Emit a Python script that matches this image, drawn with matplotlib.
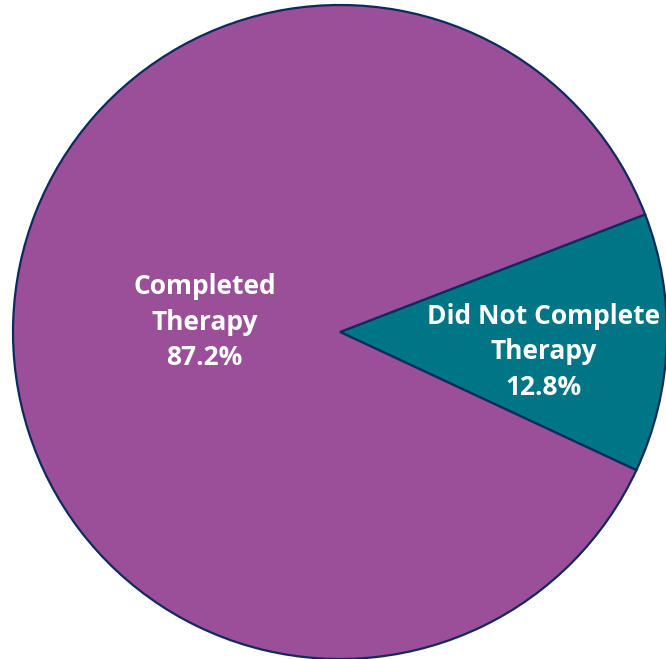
import numpy as np
import matplotlib.pyplot as plt

labels = ["Did Not Complete\nTherapy", "Completed\nTherapy"]
values = [12.8, 87.2]
colors = ["#007585", "#9B4F98"]
label_dist = [0.625, 0.415]
label_turn = [-3.6, -2.2]  # degrees off the wedge middle

fig = plt.figure(figsize=(6.66, 6.59), dpi=100)
ax = fig.add_axes([0, 0, 1, 1])

wedges, _ = ax.pie(values, colors=colors, startangle=-25, counterclock=True,
                   radius=327, center=(340, 327),
                   wedgeprops=dict(edgecolor="#0E2A5E", linewidth=1.6))

for w, lab, v, d, t in zip(wedges, labels, values, label_dist, label_turn):
    mid = np.deg2rad((w.theta1 + w.theta2) / 2 + t)
    x = 340 + d * 327 * np.cos(mid)
    y = 327 + d * 327 * np.sin(mid)
    ax.text(x, y, "{}\n{:.1f}%".format(lab, v), ha="center", va="center",
            color="white", fontsize=19, fontweight="bold", family="Open Sans",
            linespacing=1.4)

ax.set_xlim(0, 666)
ax.set_ylim(0, 659)
ax.set_aspect("equal")
ax.axis("off")
fig.savefig("out.png", dpi=100)
